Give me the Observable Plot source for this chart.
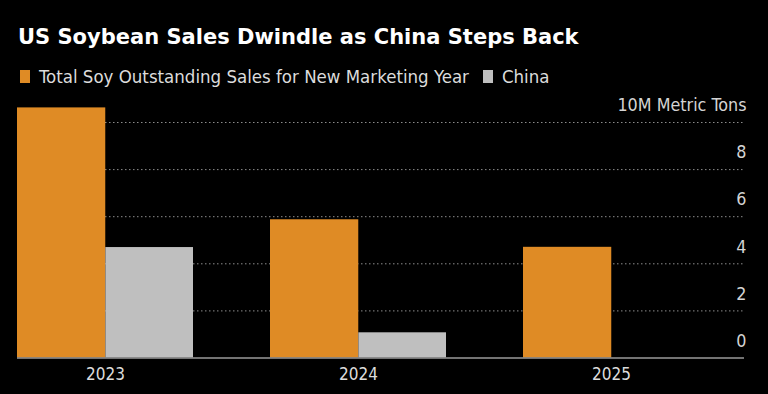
<!DOCTYPE html>
<html><head><meta charset="utf-8">
<script src="https://cdn.jsdelivr.net/npm/d3@7"></script>
<script src="https://cdn.jsdelivr.net/npm/@observablehq/plot@0.6"></script>
<style>
html,body{margin:0;padding:0;background:#000;}
#wrap{position:relative;width:768px;height:394px;overflow:hidden;background:#000;}
#title{position:absolute;left:18px;top:27px;font-family:"DejaVu Sans";font-weight:bold;font-size:21px;line-height:21px;color:#fff;white-space:nowrap;}
#legend{position:absolute;left:20px;top:67px;height:18px;display:flex;align-items:center;font-family:"DejaVu Sans Condensed","DejaVu Sans";font-stretch:condensed;font-size:18.5px;color:#dcdcdc;white-space:nowrap;}
.sw{display:inline-block;width:10px;height:13px;margin-right:9px;}
.item{display:flex;align-items:center;margin-right:14px;}
#chart{position:absolute;left:0;top:90px;}
</style></head>
<body>
<div id="wrap">
  <div id="title"></div>
  <div id="legend"></div>
  <div id="chart"></div>
</div>
<script>
const titleText = "US Soybean Sales Dwindle as China Steps Back";
const years = ["2023", "2024", "2025"];
const seriesNames = ["Total Soy Outstanding Sales for New Marketing Year", "China"];
const totalSales = [10.62, 5.87, 4.70];
const chinaSales = [4.69, 1.07, 0];
const yTicks = [0, 2, 4, 6, 8, 10];
const yTickLabels = ["0", "2", "4", "6", "8", "10M Metric Tons"];
const seriesColors = ["#DF8B25", "#BFBFBF"];

document.getElementById("title").textContent = titleText;
const legend = document.getElementById("legend");
seriesNames.forEach((name, i) => {
  const item = document.createElement("span");
  item.className = "item";
  const sw = document.createElement("span");
  sw.className = "sw";
  sw.style.background = seriesColors[i];
  const t = document.createElement("span");
  t.textContent = name;
  item.appendChild(sw);
  item.appendChild(t);
  legend.appendChild(item);
});

const rows = years.flatMap((yr, i) => [
  {year: yr, series: seriesNames[0], value: totalSales[i]},
  {year: yr, series: seriesNames[1], value: chinaSales[i]}
]);

// layout of the band scale for years (two bars share each band)
const W = 768, mL = 17, mR = 24;
const padIn = 0.303, padOut = 0.0855;
const step = (W - mL - mR) / (years.length - padIn + 2 * padOut);
const halfBand = step * (1 - padIn) / 2;

const chart = Plot.plot({
  width: W,
  height: 304,
  marginTop: 32,
  marginBottom: 36.5,
  marginLeft: mL,
  marginRight: mR,
  style: {background: "transparent", color: "#d8d8d8", fontFamily: "'DejaVu Sans Condensed', 'DejaVu Sans'", fontStretch: "condensed"},
  x: {domain: years, paddingInner: padIn, paddingOuter: padOut, align: 0, label: null},
  y: {domain: [0, 10], axis: null},
  color: {domain: seriesNames, range: seriesColors},
  marks: [
    Plot.ruleY(yTicks.filter(d => d > 0), {stroke: "#8c8c8c", strokeDasharray: "1.5 2.5"}),
    Plot.barY(rows.filter(d => d.series === seriesNames[0]), {x: "year", y: "value", fill: "series", insetRight: halfBand - 0.6}),
    Plot.barY(rows.filter(d => d.series === seriesNames[1]), {x: "year", y: "value", fill: "series", insetLeft: halfBand}),
    Plot.ruleY([0], {stroke: "#9a9a9a", strokeWidth: 1.5}),
    Plot.text(yTicks, {y: d => d, text: (d, i) => yTickLabels[i], frameAnchor: "right", textAnchor: "end", dx: 2, dy: -17, fill: "#d4d4d4", fontSize: 17.8}),
    Plot.axisX({anchor: "bottom", tickSize: 0, tickPadding: 10, fontSize: 17, label: null, color: "#dcdcdc"})
  ]
});
document.getElementById("chart").appendChild(chart);
</script>
</body></html>
